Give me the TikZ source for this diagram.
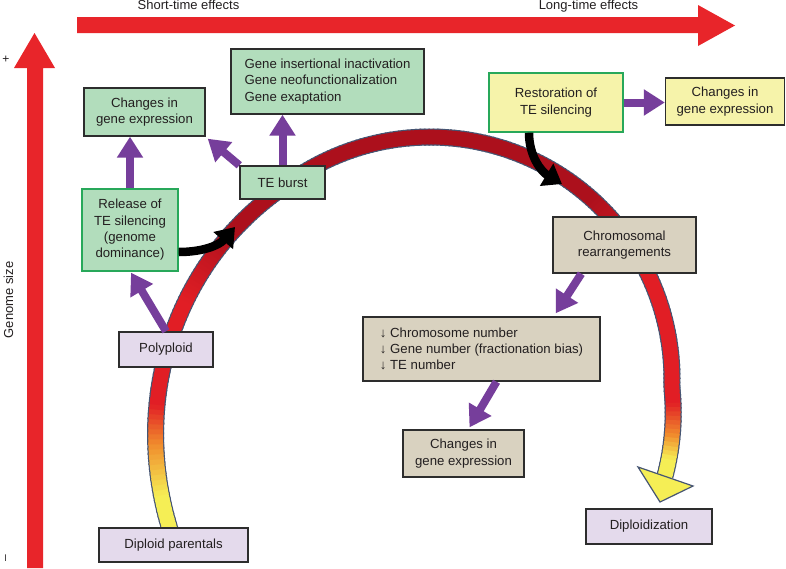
\documentclass[tikz,border=0pt]{standalone}
\usepackage{fontspec}
\setmainfont{Liberation Sans}
\usetikzlibrary{arrows.meta,calc}
\definecolor{arrowred}{RGB}{232,37,42}
\definecolor{boxgreen}{RGB}{178,221,188}
\definecolor{boxyellow}{RGB}{246,243,170}
\definecolor{boxtan}{RGB}{217,210,192}
\definecolor{boxlav}{RGB}{228,218,236}
\definecolor{edgegreen}{RGB}{40,168,90}
\definecolor{edgedark}{RGB}{45,45,45}
\definecolor{purp}{RGB}{118,62,155}
\definecolor{txt}{RGB}{35,31,32}
\definecolor{cY}{RGB}{245,238,85}
\definecolor{cO}{RGB}{240,140,45}
\definecolor{cR}{RGB}{225,30,37}
\definecolor{cD}{RGB}{172,16,28}
\definecolor{arcedge}{RGB}{70,85,115}
\newcommand\setarccol[1]{%
 \ifdim#1pt<157pt \colorlet{ac}{cY}%
 \else\ifdim#1pt<167pt \pgfmathtruncatemacro\arcpp{(167-#1)/10*100}\colorlet{ac}{cY!\arcpp!cO}%
 \else\ifdim#1pt<175pt \pgfmathtruncatemacro\arcpp{(175-#1)/8*100}\colorlet{ac}{cO!\arcpp!cR}%
 \else\ifdim#1pt<198pt \colorlet{ac}{cR}%
 \else\ifdim#1pt<218pt \pgfmathtruncatemacro\arcpp{(218-#1)/20*100}\colorlet{ac}{cR!\arcpp!cD}%
 \else\ifdim#1pt<312pt \colorlet{ac}{cD}%
 \else\ifdim#1pt<334pt \pgfmathtruncatemacro\arcpp{(334-#1)/22*100}\colorlet{ac}{cD!\arcpp!cR}%
 \else\ifdim#1pt<366pt \colorlet{ac}{cR}%
 \else\ifdim#1pt<373.5pt \pgfmathtruncatemacro\arcpp{(373.5-#1)/7.5*100}\colorlet{ac}{cR!\arcpp!cO}%
 \else\ifdim#1pt<379pt \pgfmathtruncatemacro\arcpp{(379-#1)/5.5*100}\colorlet{ac}{cO!\arcpp!cY}%
 \else \colorlet{ac}{cY}%
 \fi\fi\fi\fi\fi\fi\fi\fi\fi\fi}
\tikzset{
  declare function={arcr(\t)=242+0.25*max(0,230-\t)+0.006*(max(0,230-\t))^2+0.6*max(0,\t-362);},
  box/.style={draw=edgedark, line width=1.4pt, inner sep=0pt, align=center, text=txt,
    font=\fontsize{13.2}{16.3}\selectfont},
  gbox/.style={box, fill=boxgreen},
  ggbox/.style={box, fill=boxgreen, draw=edgegreen},
  ybox/.style={box, fill=boxyellow},
  yybox/.style={box, fill=boxyellow, draw=edgegreen},
  tbox/.style={box, fill=boxtan},
  lbox/.style={box, fill=boxlav},
  parrow/.style={draw=purp, line width=8pt, -{Triangle[length=21pt,width=25pt]}},
  barrow/.style={draw=black, line width=8.5pt, -{Triangle[length=18pt,width=25pt]}},
  axlabel/.style={text=txt, font=\fontsize{13}{15}\selectfont},
}
\begin{document}
\begin{tikzpicture}[x=1pt,y=-1pt]
\useasboundingbox (0,0) rectangle (786,568);
\fill[white] (0,0) rectangle (786,568);
% axes
\fill[arrowred] (77,17) -- (698,17) -- (698,5) -- (735,25.5) -- (698,46) -- (698,33) -- (77,33) -- cycle;
\fill[arrowred] (27,568) -- (27,68) -- (14,68) -- (34.5,33) -- (55,68) -- (43,68) -- (43,568) -- cycle;
\node[axlabel, anchor=base] (st) at (188.5,9.5) {Short-time effects};
\node[axlabel, anchor=base] (lt) at (588.5,9.5) {Long-time effects};
\node[axlabel, rotate=90] (gs) at (8.5,300) {Genome size};
\node[axlabel, rotate=90, font=\fontsize{12}{14}\selectfont, inner sep=1pt] (plus) at (6.5,59) {+};
\node[axlabel, rotate=90, font=\fontsize{12}{14}\selectfont, inner sep=1pt] (minus) at (7,558) {–};
% big arc: outline pass, then colour pass
\foreach \a in {147,...,382}{
  \pgfmathsetmacro\aone{\a-0.4}
  \pgfmathsetmacro\atwo{min(\a+1,382.5)}
  \draw[arcedge, line width=17pt] ({430+arcr(\aone)*cos(\aone)},{379+arcr(\aone)*sin(\aone)}) -- ({430+arcr(\atwo)*cos(\atwo)},{379+arcr(\atwo)*sin(\atwo)});
}
\foreach \a in {147,...,382}{
  \pgfmathsetmacro\aone{\a-0.4}
  \pgfmathsetmacro\atwo{min(\a+1,382.5)}
  \pgfmathsetmacro\amid{\a+0.5}
  \setarccol{\amid}
  \draw[ac, line width=14.6pt] ({430+arcr(\aone)*cos(\aone)},{379+arcr(\aone)*sin(\aone)}) -- ({430+arcr(\atwo)*cos(\atwo)},{379+arcr(\atwo)*sin(\atwo)});
}
\filldraw[fill=cY, draw=arcedge, line width=1.2pt] (638,467) -- (693,486) -- (660,502) -- cycle;
% boxes
\node[gbox, minimum width=121pt, minimum height=48pt] (chg1) at (144.5,112) {Changes in\\gene expression};
\node[gbox, minimum width=193pt, minimum height=65pt, align=left] (gene) at (327.5,81.5) {Gene insertional inactivation\\Gene neofunctionalization\\Gene exaptation};
\node[gbox, minimum width=85pt, minimum height=33pt] (burst) at (282.5,182.5) {TE burst};
\node[ggbox, minimum width=96pt, minimum height=82pt] (release) at (130,230) {Release of\\TE silencing\\(genome\\dominance)};
\node[yybox, minimum width=134pt, minimum height=59pt] (restor) at (556,102.5) {Restoration of\\TE silencing};
\node[ybox, minimum width=119pt, minimum height=47pt] (chg2) at (725,101.5) {Changes in\\gene expression};
\node[tbox, minimum width=143pt, minimum height=56pt] (chromo) at (624.5,245) {Chromosomal\\rearrangements};
\node[tbox, minimum width=237pt, minimum height=64pt, align=left] (numbers) at (481.5,349) {↓ Chromosome number\\↓ Gene number (fractionation bias)\\↓ TE number};
\node[tbox, minimum width=121pt, minimum height=47pt] (chg3) at (463.5,453.5) {Changes in\\gene expression};
\node[lbox, minimum width=126pt, minimum height=35pt] (diploidz) at (649,526.5) {Diploidization};
\node[lbox, minimum width=94pt, minimum height=35pt] (poly) at (166,349.5) {Polyploid};
\node[lbox, minimum width=149pt, minimum height=34pt] (parent) at (173.5,545) {Diploid parentals};
% black arrows
\coordinate (ba) at (235,227);
\coordinate (bb) at (562,184);
\draw[barrow] ($(release.east)+(0,22)$) to[out=0, in=-131] (ba);
\draw[barrow] ($(restor.south)+(-27,0)$) to[out=-90, in=149] (bb);
% purple arrows
\draw[parrow] (release.north) -- (release.north |- chg1.south);
\draw[parrow] (burst.north west) -- ($(chg1.south east)+(2,2)$);
\draw[parrow] (burst.north) -- (burst.north |- gene.south);
\draw[parrow] (restor.east) -- (restor.east -| chg2.west);
\draw[parrow] (poly.north) -- ($(release.south)+(1,1)$);
\draw[parrow] ($(chromo.south west)+(29,0)$) -- ($(numbers.north east)+(-45,-3)$);
\draw[parrow] ($(numbers.south)+(15,0)$) -- ($(chg3.north)+(6,-2)$);
\end{tikzpicture}
\end{document}
